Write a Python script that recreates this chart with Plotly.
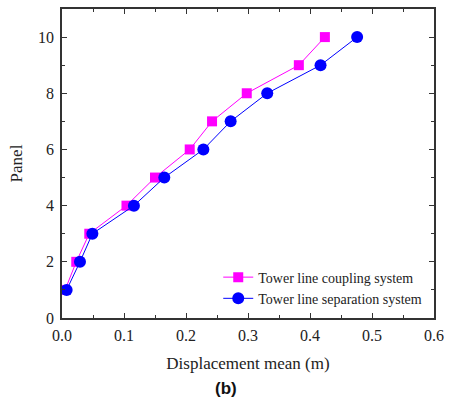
import plotly.graph_objects as go

panels = [1, 2, 3, 4, 5, 6, 7, 8, 9, 10]
coupling = [0.005, 0.023, 0.044, 0.104, 0.150, 0.206, 0.242, 0.298, 0.382, 0.424]
separation = [0.0075, 0.029, 0.049, 0.116, 0.165, 0.228, 0.272, 0.331, 0.417, 0.476]
x_ticks = [0.0, 0.1, 0.2, 0.3, 0.4, 0.5, 0.6]
y_ticks = [0, 2, 4, 6, 8, 10]

fig = go.Figure()
fig.add_trace(go.Scatter(
    x=coupling, y=panels, mode="lines+markers",
    name="Tower line coupling system",
    line=dict(color="#FF00FF", width=1),
    marker=dict(symbol="square", size=10, color="#FF00FF"),
))
fig.add_trace(go.Scatter(
    x=separation, y=panels, mode="lines+markers",
    name="Tower line separation system",
    line=dict(color="#0000FF", width=1),
    marker=dict(symbol="circle", size=12, color="#0000FF"),
))

axis_common = dict(
    showline=True, linecolor="#333333", linewidth=1.5, mirror="allticks",
    ticks="inside", ticklen=5, tickwidth=1, tickcolor="#333333",
    showgrid=False, zeroline=False,
    tickfont=dict(family="Liberation Serif", size=16, color="#222222"),
)

fig.update_xaxes(
    range=[0, 0.6], tickvals=x_ticks, tickformat=".1f", ticklabelstandoff=2,
    minor=dict(ticks="inside", ticklen=3, dtick=0.05, tickcolor="#333333", showgrid=False),
    title=dict(text="Displacement mean (m)", standoff=14,
               font=dict(family="Liberation Serif", size=17, color="#222222")),
    **axis_common,
)
fig.update_yaxes(
    range=[0, 11], tickvals=y_ticks, ticklabelstandoff=3,
    minor=dict(ticks="inside", ticklen=3, dtick=1, tickcolor="#333333", showgrid=False),
    title=dict(text="Panel", standoff=11,
               font=dict(family="Liberation Serif", size=17, color="#222222")),
    **axis_common,
)

fig.add_annotation(
    text="<b>(b)</b>", xref="paper", yref="paper", x=0.442, y=-0.228,
    showarrow=False, xanchor="center", yanchor="middle",
    font=dict(family="Liberation Sans", size=17, color="#111111"),
)

fig.update_layout(
    width=451, height=404,
    margin=dict(l=62, r=16, t=7, b=86),
    paper_bgcolor="white", plot_bgcolor="white",
    showlegend=True,
    legend=dict(
        x=0.42, y=0.097, xanchor="left", yanchor="middle",
        bgcolor="rgba(0,0,0,0)", borderwidth=0,
        font=dict(family="Liberation Serif", size=14, color="#222222"),
        tracegroupgap=0, itemwidth=30,
    ),
)

fig.write_html("out.html")
